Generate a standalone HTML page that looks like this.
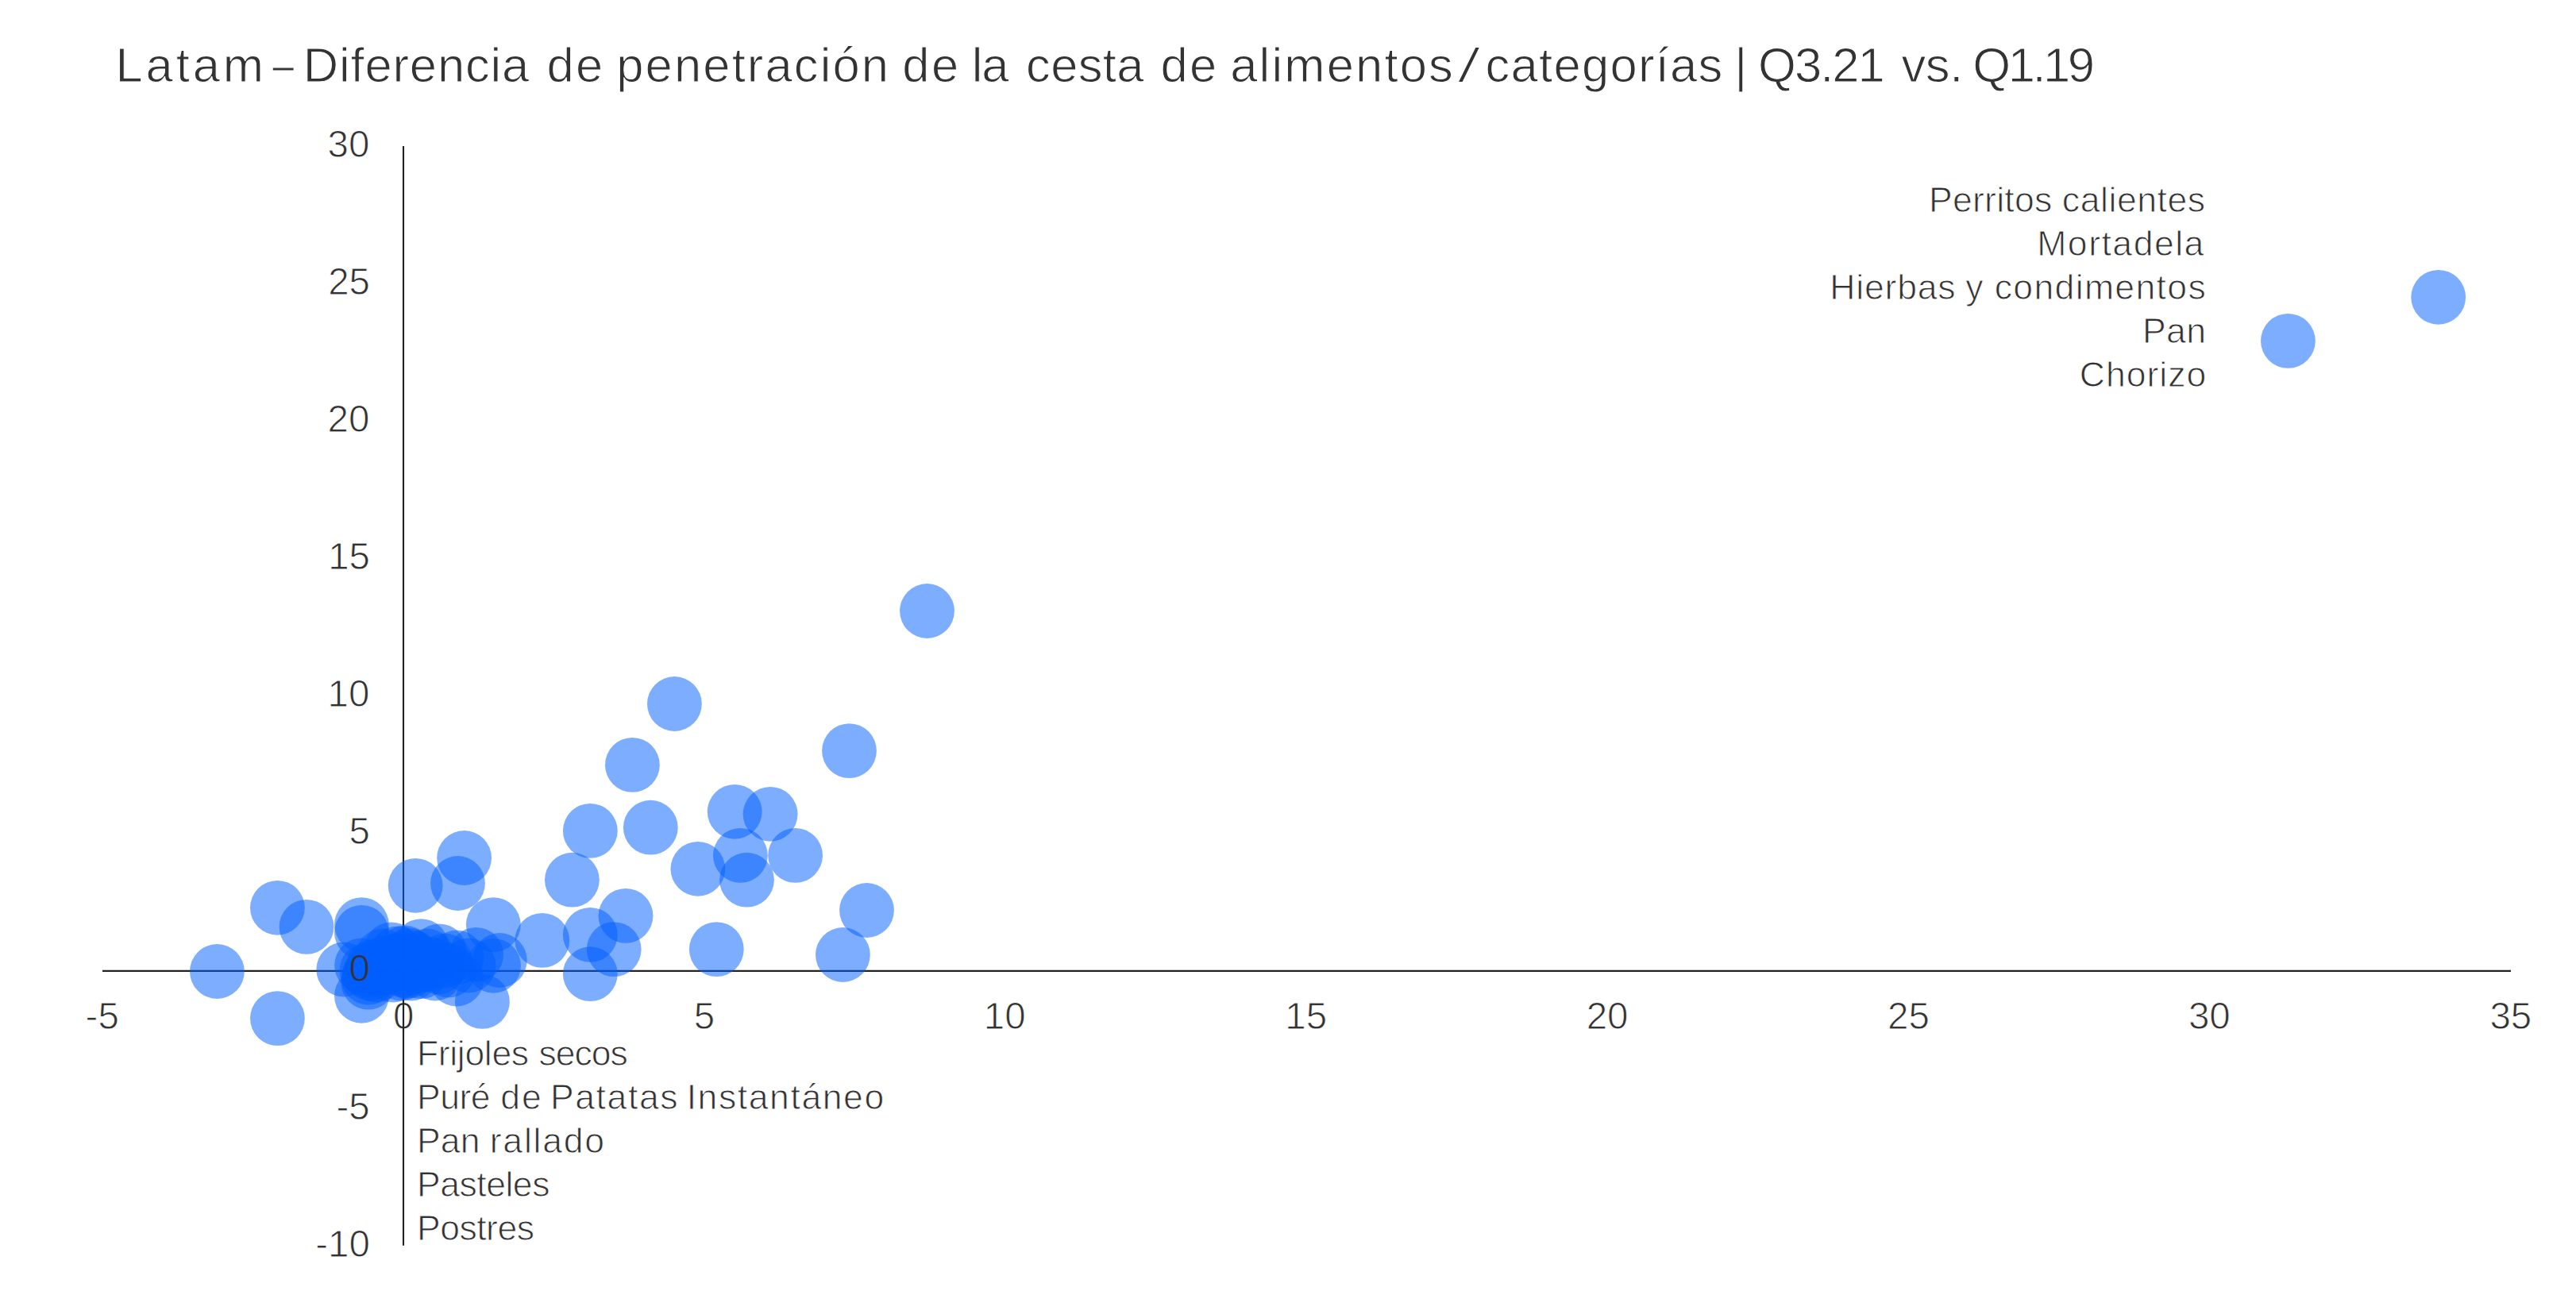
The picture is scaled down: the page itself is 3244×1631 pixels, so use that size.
<!DOCTYPE html>
<html lang="es"><head><meta charset="utf-8"><title>Latam – Diferencia de penetración de la cesta de alimentos / categorías | Q3.21 vs. Q1.19</title>
<style>
html,body{margin:0;padding:0;background:#fff;overflow:hidden}
svg{display:block}
text{font-family:"Liberation Sans",sans-serif;fill:#333333;white-space:pre}
.t{font-size:61.5px;stroke:#fff;stroke-width:1.0px}
.l{font-size:44.5px;stroke:#fff;stroke-width:0.9px}
.d{font-size:47.5px;stroke:#fff;stroke-width:0.9px}
.n{stroke:rgb(0,94,254)}
.b circle{fill:rgb(0,94,254);fill-opacity:0.51}
.ax{stroke:#222222;stroke-width:2.1;fill:none}
</style></head><body>
<svg width="3244" height="1631" viewBox="0 0 3244 1631">
<rect width="3244" height="1631" fill="#ffffff"/>
<line class="ax" x1="129" y1="1222.9" x2="3162" y2="1222.9"/>
<line class="ax" x1="508.0" y1="184" x2="508.0" y2="1568.8"/>
<g class="b">
<circle cx="2881.4" cy="429.4" r="34.4"/><circle cx="3070.7" cy="374.3" r="34.4"/><circle cx="1167.5" cy="769.5" r="34.4"/><circle cx="849.4" cy="886.5" r="34.4"/><circle cx="1069.5" cy="945.6" r="34.4"/><circle cx="796.4" cy="963.4" r="34.4"/><circle cx="925.2" cy="1022.3" r="34.4"/><circle cx="970.1" cy="1025.3" r="34.4"/><circle cx="743.3" cy="1046.4" r="34.4"/><circle cx="819.3" cy="1042.2" r="34.4"/><circle cx="932.4" cy="1077.4" r="34.4"/><circle cx="1001.6" cy="1077.4" r="34.4"/><circle cx="878.9" cy="1094.3" r="34.4"/><circle cx="940.5" cy="1108.2" r="34.4"/><circle cx="720.4" cy="1108.2" r="34.4"/><circle cx="1091.5" cy="1146.5" r="34.4"/><circle cx="788" cy="1153.4" r="34.4"/><circle cx="743.3" cy="1177.4" r="34.4"/><circle cx="773.2" cy="1195.6" r="34.4"/><circle cx="902.3" cy="1195.6" r="34.4"/><circle cx="1061.4" cy="1202.5" r="34.4"/><circle cx="743.3" cy="1226.7" r="34.4"/><circle cx="682.8" cy="1184.4" r="34.4"/><circle cx="273.4" cy="1223.5" r="34.4"/><circle cx="349.4" cy="1282.6" r="34.4"/><circle cx="349.4" cy="1143.3" r="34.4"/><circle cx="386" cy="1167.4" r="34.4"/><circle cx="523.2" cy="1115.3" r="34.4"/><circle cx="584.6" cy="1080.5" r="34.4"/><circle cx="576.5" cy="1112.5" r="34.4"/><circle cx="455.4" cy="1164.6" r="34.4"/><circle cx="455.4" cy="1174.4" r="34.4"/><circle cx="621.3" cy="1164.6" r="34.4"/><circle cx="607.4" cy="1261.4" r="34.4"/><circle cx="455.4" cy="1254.3" r="34.4"/><circle cx="432.8" cy="1221" r="34.4"/><circle cx="629.3" cy="1209.5" r="34.4"/><circle cx="621.5" cy="1216.3" r="34.4"/><circle cx="599.6" cy="1202.3" r="34.4"/><circle cx="574.9" cy="1233" r="34.4"/><circle cx="553.1" cy="1197.9" r="34.4"/><circle cx="530.4" cy="1191.6" r="34.4"/><circle cx="492.9" cy="1195.8" r="34.4"/><circle cx="463.8" cy="1237.2" r="34.4"/><circle cx="455.6" cy="1215.9" r="34.4"/><circle cx="464" cy="1231.2" r="34.4"/><circle cx="515" cy="1223" r="34.4"/><circle cx="530.4" cy="1223.6" r="34.4"/><circle cx="500" cy="1210" r="34.4"/><circle cx="520" cy="1206" r="34.4"/><circle cx="540" cy="1214" r="34.4"/><circle cx="560" cy="1210" r="34.4"/><circle cx="575" cy="1206" r="34.4"/><circle cx="590" cy="1216" r="34.4"/><circle cx="505" cy="1226" r="34.4"/><circle cx="478" cy="1220" r="34.4"/><circle cx="548" cy="1226" r="34.4"/><circle cx="510" cy="1200" r="34.4"/><circle cx="500" cy="1201" r="34.4"/><circle cx="515" cy="1203" r="34.4"/><circle cx="505" cy="1208" r="34.4"/><circle cx="512" cy="1215" r="34.4"/><circle cx="498" cy="1218" r="34.4"/><circle cx="520" cy="1212" r="34.4"/><circle cx="508" cy="1222" r="34.4"/><circle cx="495" cy="1228" r="34.4"/><circle cx="518" cy="1226" r="34.4"/><circle cx="462" cy="1222" r="34.4"/><circle cx="466" cy="1226" r="34.4"/><circle cx="470" cy="1218" r="34.4"/><circle cx="474" cy="1228" r="34.4"/><circle cx="486" cy="1212" r="34.4"/><circle cx="528" cy="1216" r="34.4"/><circle cx="538" cy="1204" r="34.4"/><circle cx="552" cy="1218" r="34.4"/><circle cx="565" cy="1222" r="34.4"/><circle cx="482" cy="1204" r="34.4"/>
</g>
<text class="t" y="102.9"><tspan x="145.38" letter-spacing="3.95">Latam </tspan><tspan x="343.36" textLength="26.76" lengthAdjust="spacingAndGlyphs">–</tspan><tspan> </tspan><tspan x="381.78" letter-spacing="0.85">Diferencia </tspan><tspan x="688.55" letter-spacing="2.36">de </tspan><tspan x="776.28" letter-spacing="2.14">penetración </tspan><tspan x="1136.25" letter-spacing="2.56">de </tspan><tspan x="1223.66" letter-spacing="-1.14">la </tspan><tspan x="1292.05" letter-spacing="0.37">cesta </tspan><tspan x="1461.45" letter-spacing="2.36">de </tspan><tspan x="1549.25" letter-spacing="2.17">alimentos </tspan><tspan x="1834.53" textLength="30.73" lengthAdjust="spacingAndGlyphs" stroke-width="2.2">/</tspan><tspan> </tspan><tspan x="1870.55" letter-spacing="1.29">categorías </tspan><tspan x="2184.30" letter-spacing="0.00">| </tspan><tspan x="2214.10" letter-spacing="-1.98">Q3.21 </tspan><tspan x="2394.45" letter-spacing="-0.32">vs. </tspan><tspan x="2484.30" letter-spacing="-3.44">Q1.19</tspan></text>
<text class="l" y="267"><tspan x="2428.96" letter-spacing="0.28">Perritos </tspan><tspan x="2596.84" letter-spacing="0.57">calientes</tspan></text>
<text class="l" y="322"><tspan x="2565.26" letter-spacing="1.53">Mortadela</tspan></text>
<text class="l" y="377"><tspan x="2304.26" letter-spacing="0.83">Hierbas </tspan><tspan x="2475.16" letter-spacing="0.00">y </tspan><tspan x="2511.74" letter-spacing="1.36">condimentos</tspan></text>
<text class="l" y="432"><tspan x="2697.96" letter-spacing="0.43">Pan</tspan></text>
<text class="l" y="487"><tspan x="2618.76" letter-spacing="1.03">Chorizo</tspan></text>
<text class="l" y="1342.1"><tspan x="524.96" letter-spacing="-0.33">Frijoles </tspan><tspan x="678.53" letter-spacing="-1.00">secos</tspan></text>
<text class="l" y="1397"><tspan x="524.96" letter-spacing="-0.50">Puré </tspan><tspan x="630.14" letter-spacing="2.09">de </tspan><tspan x="692.96" letter-spacing="1.61">Patatas </tspan><tspan x="864.63" letter-spacing="1.60">Instantáneo</tspan></text>
<text class="l" y="1451.9"><tspan x="524.96" letter-spacing="0.23">Pan </tspan><tspan x="616.79" letter-spacing="1.77">rallado</tspan></text>
<text class="l" y="1506.8"><tspan x="524.96" letter-spacing="-0.46">Pasteles</tspan></text>
<text class="l" y="1561.7"><tspan x="524.96" letter-spacing="-0.47">Postres</tspan></text>
<text class="d" x="412.48" y="197.8">30</text>
<text class="d" x="413.18" y="370.9">25</text>
<text class="d" x="412.48" y="544.0">20</text>
<text class="d" x="413.18" y="717.1">15</text>
<text class="d" x="412.48" y="890.2">10</text>
<text class="d" x="439.44" y="1063.3">5</text>
<text class="d n" x="439.44" y="1236.4">0</text>
<text class="d" x="423.46" y="1409.5">-5</text>
<text class="d" x="397.27" y="1582.6">-10</text>
<text class="d" x="107.62" y="1295.8">-5</text>
<text class="d" x="495.09" y="1295.8">0</text>
<text class="d" x="873.78" y="1295.8">5</text>
<text class="d" x="1238.87" y="1295.8">10</text>
<text class="d" x="1618.34" y="1295.8">15</text>
<text class="d" x="1997.63" y="1295.8">20</text>
<text class="d" x="2377.11" y="1295.8">25</text>
<text class="d" x="2755.95" y="1295.8">30</text>
<text class="d" x="3135.43" y="1295.8">35</text>
<line class="ax" x1="508.0" y1="1259" x2="508.0" y2="1300"/>
</svg>
</body></html>
